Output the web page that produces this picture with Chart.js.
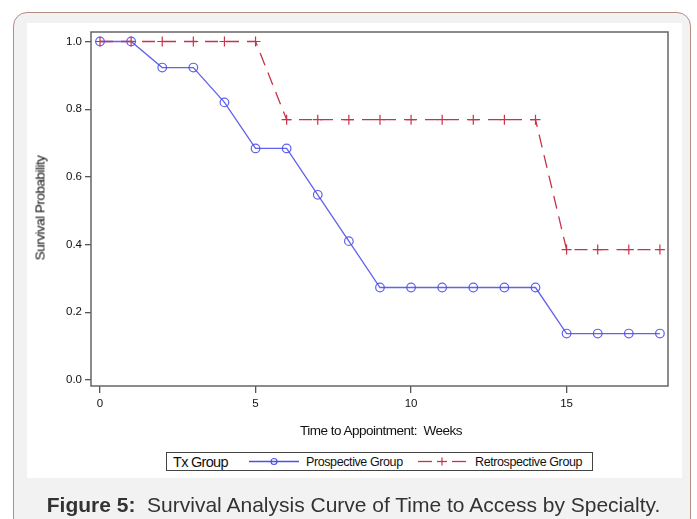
<!DOCTYPE html>
<html>
<head>
<meta charset="utf-8">
<script src="https://cdn.jsdelivr.net/npm/chart.js@4/dist/chart.umd.min.js"></script>
<style>
  html, body { margin:0; padding:0; background:#ffffff; }
  body { width:697px; height:519px; position:relative; overflow:hidden; font-family:"Liberation Sans", Arial, sans-serif; }
  #frame { position:absolute; left:13px; top:12px; width:678px; height:520px; border:1.5px solid #b38c84; border-radius:14px; background:#f2f2f2; box-sizing:border-box; }
  #panel { position:absolute; left:27px; top:23px; width:655px; height:455px; background:#ffffff; }
  #wrap { position:absolute; left:0; top:0; width:697px; height:519px; }
  #ytitle { position:absolute; left:40px; top:208px; transform:translate(-50%,-50%) rotate(-90deg); font-size:13.5px; color:#111; white-space:nowrap; letter-spacing:-0.5px; }
  #xtitle { position:absolute; left:381px; top:430px; transform:translate(-50%,-50%); font-size:13.5px; color:#111; white-space:nowrap; letter-spacing:-0.5px; }
  #legend { position:absolute; left:166px; top:452px; width:427px; height:19px; border:1px solid #444; box-sizing:border-box; background:#fff; font-size:12.5px; color:#111; letter-spacing:-0.4px; }
  #legend span { position:absolute; top:50%; transform:translateY(-50%); white-space:nowrap; }
  #legend svg { position:absolute; top:0; }
  #caption { position:absolute; left:5px; width:697px; top:493px; text-align:center; font-size:21px; color:#333; white-space:nowrap; letter-spacing:0px; }
</style>
</head>
<body>
<div id="frame"></div>
<div id="panel"></div>
<div id="wrap"><canvas id="c" width="697" height="519"></canvas></div>
<div id="ytitle">Survival Probability</div>
<div id="xtitle">Time to Appointment:&nbsp; Weeks</div>
<div id="legend">
  <span style="left:6px;font-size:14.5px;letter-spacing:-0.7px;">Tx Group</span>
  <svg style="left:82px" width="50" height="17"><line x1="0" y1="8.5" x2="50" y2="8.5" stroke="#5050e8" stroke-width="1.3"/><circle cx="25" cy="8.5" r="3" fill="none" stroke="#5050e8" stroke-width="1.2"/></svg>
  <span style="left:139px;">Prospective Group</span>
  <svg style="left:251px" width="48" height="17"><line x1="0" y1="8.5" x2="14" y2="8.5" stroke="#c8324a" stroke-width="1.3"/><line x1="19" y1="8.5" x2="29" y2="8.5" stroke="#c8324a" stroke-width="1.3"/><line x1="34" y1="8.5" x2="48" y2="8.5" stroke="#c8324a" stroke-width="1.3"/><line x1="24" y1="4.5" x2="24" y2="12.5" stroke="#c8324a" stroke-width="1.2"/></svg>
  <span style="left:308px;">Retrospective Group</span>
</div>
<div id="caption"><b>Figure 5:</b>&nbsp; Survival Analysis Curve of Time to Access by Specialty.</div>
<script>
const weeks = [0,1,2,3,4,5,6,7,8,9,10,11,12,13,14,15,16,17,18];
const prospective = [1.0,1.0,0.923,0.923,0.82,0.684,0.684,0.547,0.41,0.273,0.273,0.273,0.273,0.273,0.273,0.137,0.137,0.137,0.137];
const retrospective = [1.0,1.0,1.0,1.0,1.0,1.0,0.769,0.769,0.769,0.769,0.769,0.769,0.769,0.769,0.769,0.385,0.385,0.385,0.385];
const xTicks = [0,5,10,15];
const yTicks = [0.0,0.2,0.4,0.6,0.8,1.0];

const toXY = (vals) => vals.map((v,i) => ({x: weeks[i], y: v}));

const frameBox = {
  id: 'frameBox',
  afterDraw(chart) {
    const a = chart.chartArea, ctx = chart.ctx;
    ctx.save();
    ctx.strokeStyle = '#666';
    ctx.lineWidth = 1.5;
    ctx.strokeRect(a.left, a.top, a.right - a.left, a.bottom - a.top);
    ctx.restore();
  }
};

new Chart(document.getElementById('c'), {
  type: 'line',
  data: {
    datasets: [
      {
        label: 'Retrospective Group',
        data: toXY(retrospective),
        borderColor: '#c8324a',
        borderWidth: 1.3,
        borderDash: [13, 8],
        pointStyle: 'cross',
        pointRadius: 5,
        pointBorderColor: '#c8324a',
        pointBorderWidth: 1.2,
        pointBackgroundColor: '#c8324a',
        tension: 0,
        fill: false
      },
      {
        label: 'Prospective Group',
        data: toXY(prospective),
        borderColor: 'rgba(70,70,235,0.85)',
        borderWidth: 1.3,
        pointStyle: 'circle',
        pointRadius: 4.3,
        pointBorderColor: 'rgba(70,70,235,0.85)',
        pointBorderWidth: 1.2,
        pointBackgroundColor: 'rgba(0,0,0,0)',
        tension: 0,
        fill: false
      }
    ]
  },
  options: {
    responsive: false,
    animation: false,
    events: [],
    layout: { padding: { top: 32, right: 29, left: 0, bottom: 0 } },
    plugins: { legend: { display: false }, tooltip: { enabled: false } },
    scales: {
      x: {
        type: 'linear',
        min: -0.29,
        max: 18.26,
        afterFit: (s) => { s.height = 133; },
        afterBuildTicks: (s) => { s.ticks = xTicks.map(v => ({value: v})); },
        border: { display: false },
        grid: { drawOnChartArea: false, drawTicks: true, tickLength: 7, color: '#555', lineWidth: 1.3 },
        ticks: { color: '#111', font: { family: 'Liberation Sans', size: 11.5 }, padding: 4, maxRotation: 0,
                 callback: (v) => String(v) }
      },
      y: {
        type: 'linear',
        min: -0.018,
        max: 1.028,
        afterFit: (s) => { s.width = 91; },
        afterBuildTicks: (s) => { s.ticks = yTicks.map(v => ({value: v})); },
        border: { display: false },
        grid: { drawOnChartArea: false, drawTicks: true, tickLength: 6, color: '#555', lineWidth: 1.3 },
        ticks: { color: '#111', font: { family: 'Liberation Sans', size: 11.5 }, padding: 3,
                 callback: (v) => Number(v).toFixed(1) }
      }
    }
  },
  plugins: [frameBox]
});
</script>
</body>
</html>
